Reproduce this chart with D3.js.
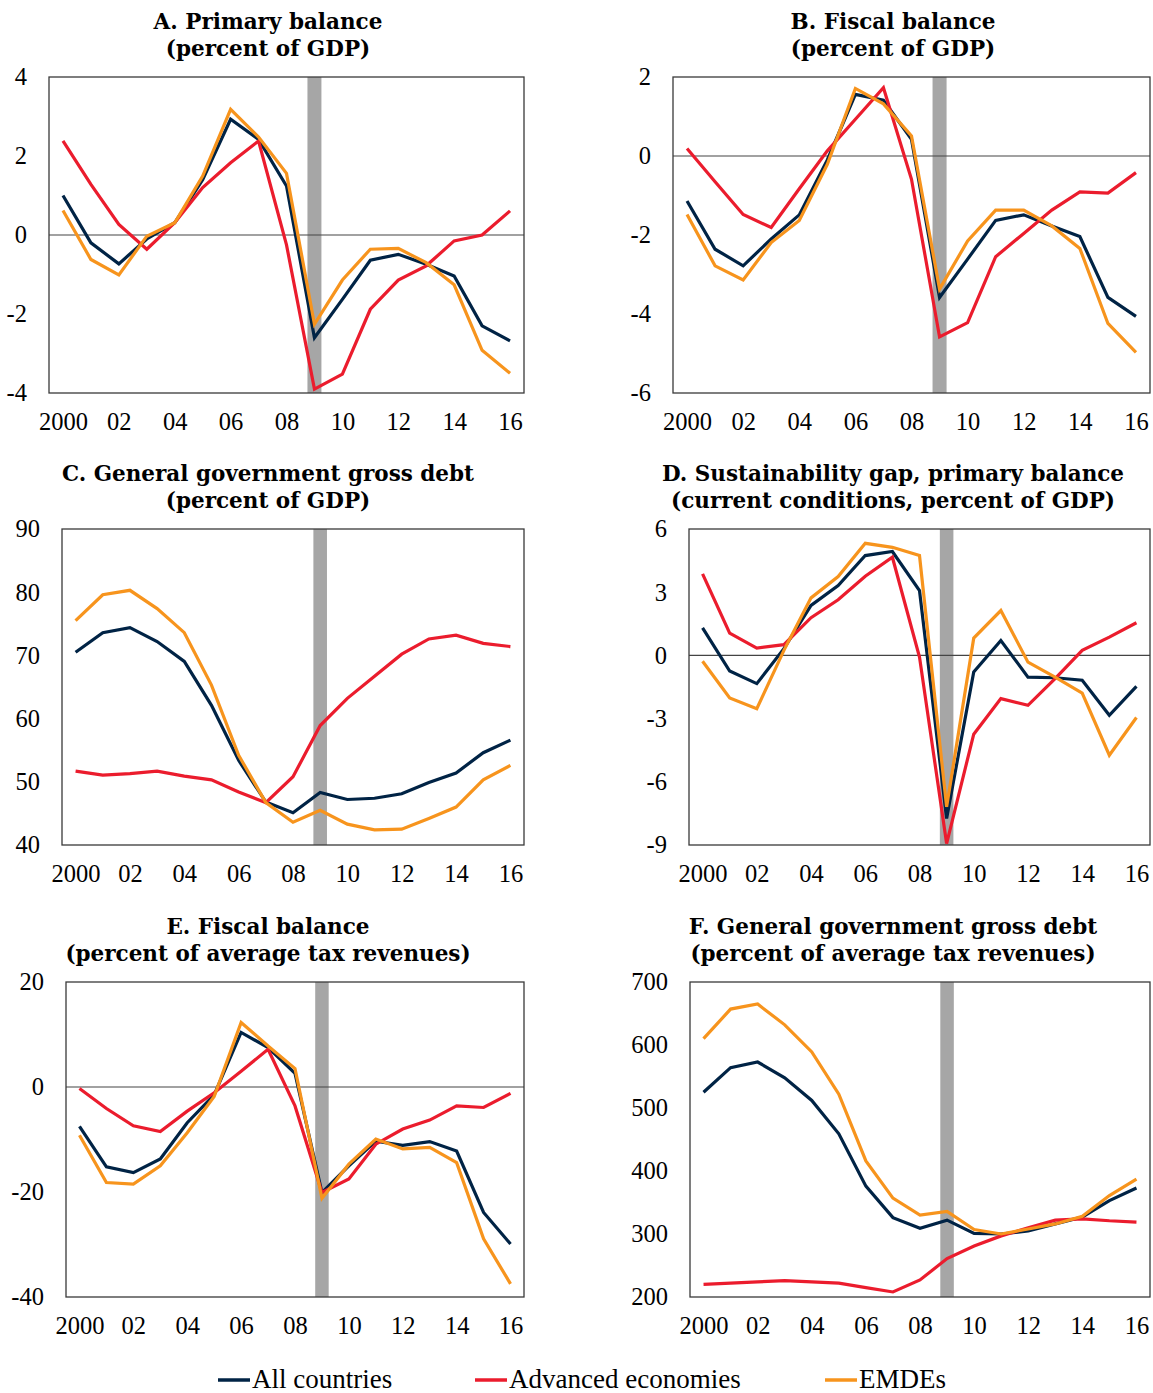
<!DOCTYPE html>
<html><head><meta charset="utf-8">
<script src="https://cdn.jsdelivr.net/npm/d3@7"></script>
<style>body{margin:0;background:#fff} svg{display:block}</style>
</head><body><svg id="c" width="1153" height="1393"></svg>
<script>
// ---------- data ----------
const years = [2000,2001,2002,2003,2004,2005,2006,2007,2008,2009,2010,2011,2012,2013,2014,2015,2016];
const xTickYears = [2000,2002,2004,2006,2008,2010,2012,2014,2016];
const xTickLabels = ["2000","02","04","06","08","10","12","14","16"];
const seriesNames = ["All countries","Advanced economies","EMDEs"];
const shadedYear = 2009;

// A. Primary balance (percent of GDP)
const titleA = ["A. Primary balance","(percent of GDP)"];
const ticksA = [-4,-2,0,2,4];
const aAll  = [1.0,-0.2,-0.73,-0.1,0.31,1.4,2.93,2.42,1.24,-2.6,-1.63,-0.64,-0.49,-0.74,-1.04,-2.3,-2.68];
const aAdv  = [2.38,1.28,0.27,-0.36,0.31,1.2,1.83,2.38,-0.25,-3.9,-3.52,-1.88,-1.14,-0.78,-0.15,0.0,0.61];
const aEmde = [0.62,-0.62,-1.01,-0.03,0.31,1.49,3.18,2.48,1.56,-2.26,-1.14,-0.36,-0.34,-0.7,-1.26,-2.92,-3.5];

// B. Fiscal balance (percent of GDP)
const titleB = ["B. Fiscal balance","(percent of GDP)"];
const ticksB = [-6,-4,-2,0,2];
const bAll  = [-1.14,-2.36,-2.78,-2.1,-1.49,-0.1,1.56,1.41,0.42,-3.58,-2.61,-1.63,-1.49,-1.77,-2.04,-3.58,-4.06];
const bAdv  = [0.19,-0.65,-1.48,-1.81,-0.83,0.13,0.93,1.73,-0.59,-4.58,-4.22,-2.55,-1.96,-1.37,-0.91,-0.94,-0.42];
const bEmde = [-1.48,-2.78,-3.14,-2.19,-1.63,-0.21,1.71,1.32,0.51,-3.37,-2.15,-1.37,-1.37,-1.77,-2.34,-4.24,-4.97];

// C. General government gross debt (percent of GDP)
const titleC = ["C. General government gross debt","(percent of GDP)"];
const ticksC = [40,50,60,70,80,90];
const cAll  = [70.5,73.6,74.4,72.2,69.05,62.1,53.4,46.8,45.1,48.3,47.2,47.4,48.1,49.9,51.4,54.6,56.6];
const cAdv  = [51.7,51.05,51.3,51.7,50.9,50.3,48.4,46.7,50.8,58.9,63.2,66.7,70.2,72.6,73.2,71.9,71.4];
const cEmde = [75.5,79.6,80.3,77.4,73.6,65.3,54.2,46.7,43.6,45.5,43.3,42.4,42.5,44.2,46.0,50.3,52.6];

// D. Sustainability gap, primary balance (current conditions, percent of GDP)
const titleD = ["D. Sustainability gap, primary balance","(current conditions, percent of GDP)"];
const ticksD = [-9,-6,-3,0,3,6];
const dAll  = [1.31,-0.74,-1.34,0.32,2.37,3.32,4.74,4.93,3.08,-7.74,-0.79,0.71,-1.03,-1.06,-1.18,-2.84,-1.47];
const dAdv  = [3.87,1.06,0.35,0.51,1.79,2.64,3.76,4.66,-0.08,-8.93,-3.74,-2.05,-2.37,-1.1,0.24,0.87,1.55];
const dEmde = [-0.28,-2.02,-2.53,0.24,2.73,3.74,5.32,5.13,4.74,-7.19,0.82,2.13,-0.32,-1.03,-1.79,-4.74,-2.95];

// E. Fiscal balance (percent of average tax revenues)
const titleE = ["E. Fiscal balance","(percent of average tax revenues)"];
const ticksE = [-40,-20,0,20];
const eAll  = [-7.5,-15.2,-16.3,-13.7,-6.8,-1.5,10.4,7.5,2.6,-20.1,-15.0,-10.3,-11.1,-10.4,-12.2,-23.9,-29.9];
const eAdv  = [-0.3,-4.1,-7.4,-8.5,-4.6,-1.1,3.0,7.2,-3.6,-20.1,-17.5,-10.9,-8.0,-6.3,-3.6,-3.9,-1.2];
const eEmde = [-9.2,-18.2,-18.5,-15.0,-8.7,-1.8,12.3,7.8,3.5,-21.2,-14.7,-9.9,-11.8,-11.5,-14.4,-28.9,-37.5];

// F. General government gross debt (percent of average tax revenues)
const titleF = ["F. General government gross debt","(percent of average tax revenues)"];
const ticksF = [200,300,400,500,600,700];
const fAll  = [525,564,573,548,512,459,376,326,309,322,301,300,305,316,327,353,373];
const fAdv  = [220,222,224,226,224,222,215,208,227,261,281,297,310,322,324,321,319];
const fEmde = [610,657,665,632,589,522,416,357,330,336,307,300,308,316,328,361,387];

// ---------- style / layout ----------
const colors = ["#002345","#EB1C2D","#F7941D"];
const panels = [
  {title:titleA, series:[aAll,aAdv,aEmde], ticks:ticksA, l:49,  r:524,  t:77,  b:393,  tc:268, zero:true},
  {title:titleB, series:[bAll,bAdv,bEmde], ticks:ticksB, l:673, r:1150, t:77,  b:393,  tc:893, zero:true},
  {title:titleC, series:[cAll,cAdv,cEmde], ticks:ticksC, l:62,  r:524,  t:529, b:845,  tc:268, zero:false},
  {title:titleD, series:[dAll,dAdv,dEmde], ticks:ticksD, l:689, r:1150, t:529, b:845,  tc:893, zero:true},
  {title:titleE, series:[eAll,eAdv,eEmde], ticks:ticksE, l:66,  r:524,  t:982, b:1297, tc:268, zero:true},
  {title:titleF, series:[fAll,fAdv,fEmde], ticks:ticksF, l:690, r:1150, t:982, b:1297, tc:893, zero:false}
];
const serif = "'Liberation Serif','Times New Roman',serif";
const titleFont = "'DejaVu Serif',serif";

const svg = d3.select("#c");

panels.forEach(p => {
  const g = svg.append("g");
  const x = d3.scalePoint().domain(years).range([p.l, p.r]).padding(0.5);
  const y = d3.scaleLinear().domain(d3.extent(p.ticks)).range([p.b, p.t]);
  const step = x.step();

  // titles
  p.title.forEach((t, i) => {
    g.append("text").attr("x", p.tc).attr("y", p.t - 48 + i * 27)
      .attr("text-anchor", "middle")
      .style("font-family", titleFont).style("font-weight", "bold")
      .style("font-size", "21.5px").attr("fill", "#000").text(t);
  });

  // shaded year
  g.append("rect")
    .attr("x", x(shadedYear) - step * 0.25).attr("width", step * 0.5)
    .attr("y", p.t).attr("height", p.b - p.t)
    .attr("fill", "#A6A6A6");

  // zero line
  if (p.zero) {
    g.append("line").attr("x1", p.l).attr("x2", p.r)
      .attr("y1", y(0)).attr("y2", y(0))
      .attr("stroke", "#444").attr("stroke-width", 1.1);
  }

  // lines
  const line = d3.line().x((d, i) => x(years[i])).y(d => y(d));
  p.series.forEach((s, k) => {
    g.append("path").datum(s).attr("d", line)
      .attr("fill", "none").attr("stroke", colors[k])
      .attr("stroke-width", 3.2).attr("stroke-linejoin", "miter")
      .attr("stroke-miterlimit", 3);
  });

  // frame
  g.append("rect").attr("x", p.l).attr("y", p.t)
    .attr("width", p.r - p.l).attr("height", p.b - p.t)
    .attr("fill", "none").attr("stroke", "#3a3a3a").attr("stroke-width", 1.3);

  // y axis labels
  const ya = d3.axisLeft(y).tickValues(p.ticks).tickSize(0).tickPadding(22)
    .tickFormat(d => d3.format("")(d).replace("−", "-"));
  const yg = g.append("g").attr("transform", `translate(${p.l},0)`).call(ya);
  yg.select(".domain").remove();
  yg.selectAll("text").style("font-family", serif).style("font-size", "24.5px").attr("fill", "#000");

  // x axis labels
  const xa = d3.axisBottom(x).tickValues(xTickYears).tickSize(0).tickPadding(20)
    .tickFormat(d => xTickLabels[xTickYears.indexOf(d)]);
  const xg = g.append("g").attr("transform", `translate(0,${p.b})`).call(xa);
  xg.select(".domain").remove();
  xg.selectAll("text").style("font-family", serif).style("font-size", "24.5px").attr("fill", "#000");
});

// legend
const legendX = [218, 475, 825];
const lg = svg.append("g");
seriesNames.forEach((n, k) => {
  lg.append("line").attr("x1", legendX[k]).attr("x2", legendX[k] + 32)
    .attr("y1", 1380).attr("y2", 1380)
    .attr("stroke", colors[k]).attr("stroke-width", 3.5);
  lg.append("text").attr("x", legendX[k] + 34).attr("y", 1388)
    .style("font-family", serif).style("font-size", "27px").attr("fill", "#000").text(n);
});
</script></body></html>
